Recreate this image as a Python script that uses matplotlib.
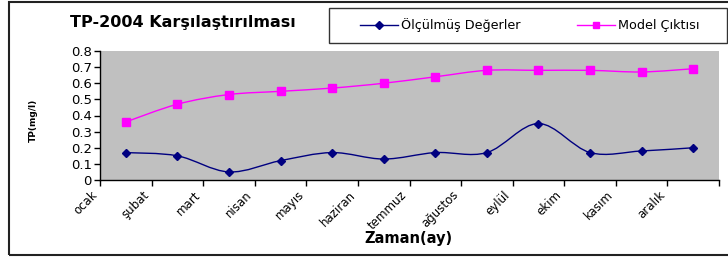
import matplotlib
matplotlib.use("Agg")
import matplotlib.pyplot as plt
import numpy as np
from matplotlib.path import Path
from matplotlib.patches import PathPatch, Rectangle
from matplotlib.lines import Line2D
from matplotlib.ticker import FuncFormatter
from matplotlib.transforms import ScaledTranslation

plt.rcParams['font.family'] = ['DejaVu Sans']

months = ["ocak", "şubat", "mart", "nisan", "mayıs", "haziran", "temmuz",
          "ağustos", "eylül", "ekim", "kasım", "aralık"]
olculmus = [0.17, 0.15, 0.05, 0.12, 0.17, 0.13, 0.17, 0.17, 0.35, 0.17, 0.18, 0.20]
model = [0.36, 0.47, 0.53, 0.55, 0.57, 0.60, 0.64, 0.68, 0.68, 0.68, 0.67, 0.69]

W, H = 728, 261
fig = plt.figure(figsize=(W / 100, H / 100), dpi=100)
ax = fig.add_axes([100 / W, 1 - 180 / H, (719 - 100) / W, (180 - 51) / H])
ax.set_facecolor('#C0C0C0')


def smooth_path(xs, ys):
    pts = np.column_stack([xs, ys]).astype(float)
    n = len(pts)
    verts = [pts[0]]
    codes = [Path.MOVETO]
    for i in range(n - 1):
        p0 = pts[i - 1] if i > 0 else pts[i]
        p1 = pts[i]
        p2 = pts[i + 1]
        p3 = pts[i + 2] if i + 2 < n else pts[i + 1]
        c1 = p1 + (p2 - p0) / 6.0
        c2 = p2 - (p3 - p1) / 6.0
        verts += [c1, c2, p2]
        codes += [Path.CURVE4] * 3
    return Path(verts, codes)


x = np.arange(len(months))
for ys, col, mk, ms in [(olculmus, '#000080', 'D', 4.5), (model, '#FF00FF', 's', 5.5)]:
    ax.add_patch(PathPatch(smooth_path(x, ys), fill=False, edgecolor=col, lw=1.0, zorder=2))
    ax.plot(x, ys, ls='none', marker=mk, color=col, ms=ms, zorder=3)

ax.set_xlim(-0.5, 11.5)
ax.set_ylim(0, 0.8)
ax.set_yticks(np.arange(0, 0.81, 0.1))
ax.yaxis.set_major_formatter(FuncFormatter(lambda v, p: "0" if abs(v) < 1e-9 else f"{v:.1f}"))
ax.set_xticks(np.arange(-0.5, 12, 1))
ax.set_xticklabels(months + [""], rotation=45, ha='right', va='top', fontsize=8.5)
offset = ScaledTranslation(8 / 100, 0, fig.dpi_scale_trans)
for lbl in ax.get_xticklabels():
    lbl.set_transform(lbl.get_transform() + offset)
ax.tick_params(axis='y', labelsize=9.5, length=4, width=1, direction='out', pad=2)
ax.tick_params(axis='x', length=4, width=1, direction='out', pad=2)
for s in ['top', 'right']:
    ax.spines[s].set_visible(False)
for s in ['left', 'bottom']:
    ax.spines[s].set_linewidth(1.0)

fig.text(183 / W, 1 - 23 / H, "TP-2004 Karşılaştırılması", ha='center', va='center',
         fontsize=11.5, fontweight='bold')
fig.text(408 / W, 1 - 239 / H, "Zaman(ay)", ha='center', va='center',
         fontsize=10.5, fontweight='bold')
fig.text(33 / W, 1 - 120 / H, "TP(mg/l)", ha='center', va='center',
         fontsize=6.5, fontweight='bold', rotation=90)

# legend frame
fig.add_artist(Rectangle((329 / W, 1 - 43 / H), (727 - 329) / W, (43 - 8) / H,
                         transform=fig.transFigure, fill=False, edgecolor='#333333', lw=1.0))
handles = [Line2D([], [], color='#000080', marker='D', ms=4, lw=1.0),
           Line2D([], [], color='#FF00FF', marker='s', ms=5, lw=1.0)]
fig.legend(handles, ["Ölçülmüş Değerler", "Model Çıktısı"], ncol=2,
           loc='center left', bbox_to_anchor=(360 / W, 1 - 25.5 / H),
           fontsize=9.2, frameon=False, handlelength=3.0, handletextpad=0.2,
           columnspacing=4.4, borderpad=0, borderaxespad=0)

# outer chart border
fig.add_artist(Rectangle((9 / W, 1 - 255 / H), 1.0, (255 - 2) / H, transform=fig.transFigure,
                         fill=False, edgecolor='#222222', lw=1.5))

fig.savefig("out.png", dpi=100)
